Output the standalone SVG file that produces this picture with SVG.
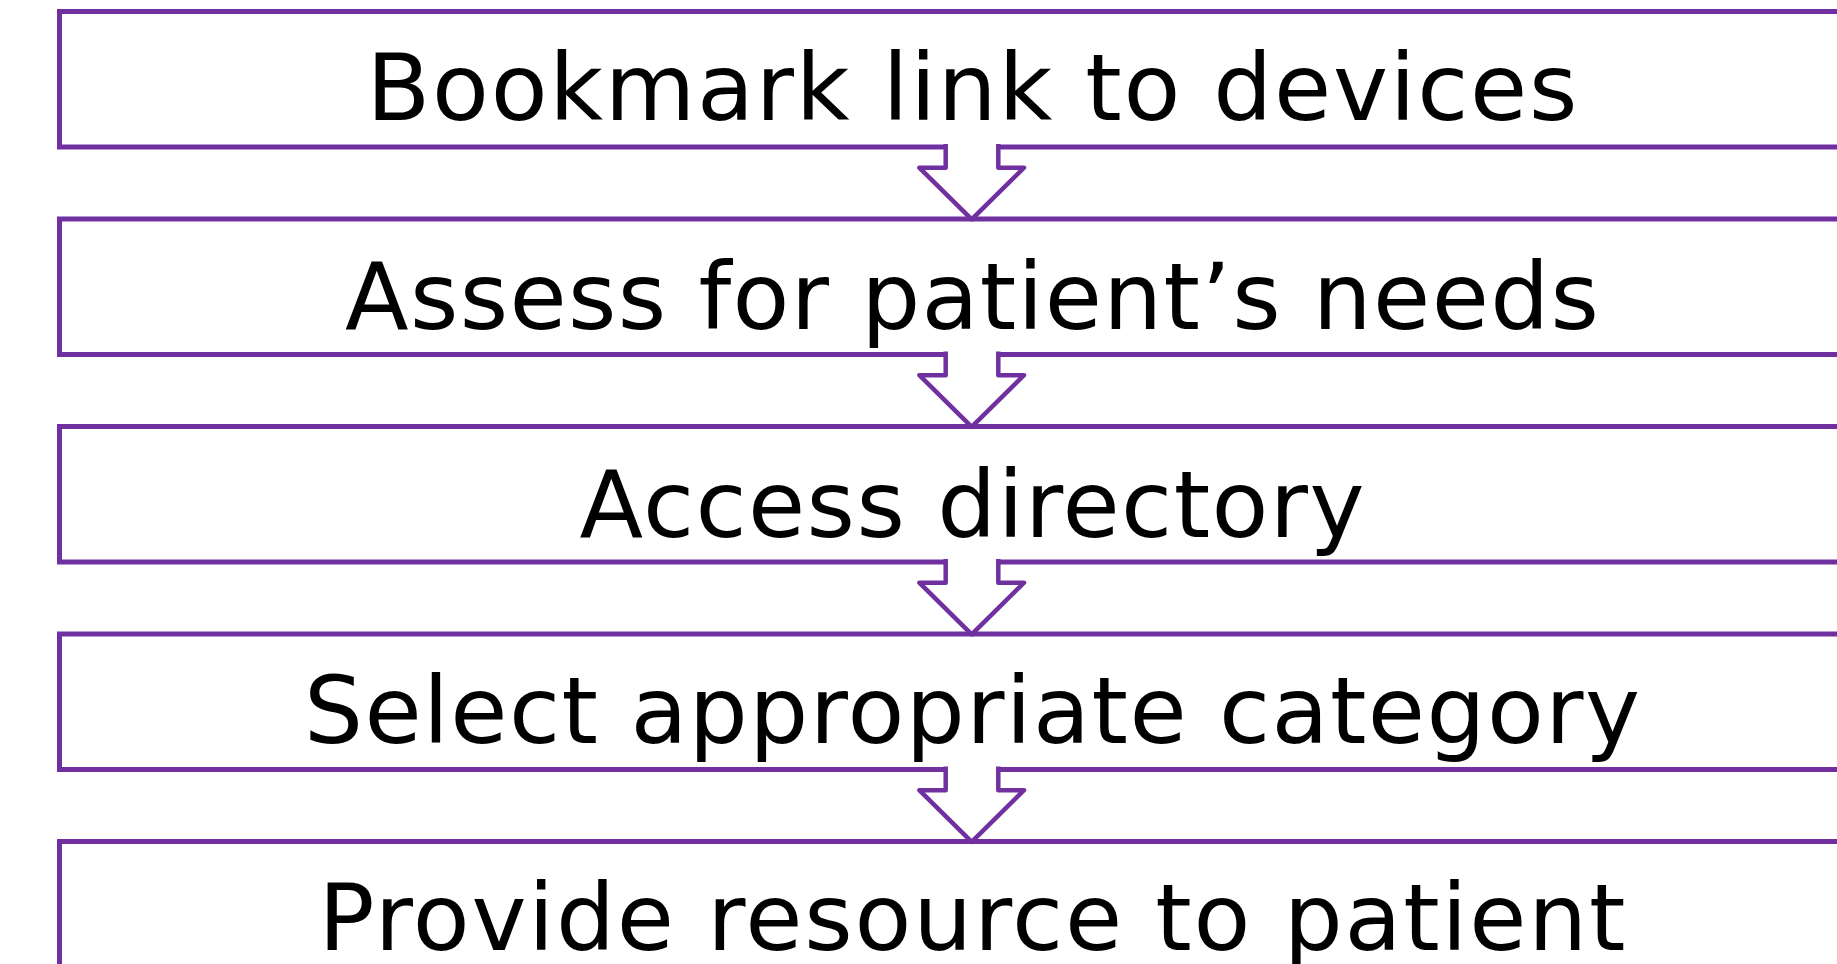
<svg xmlns="http://www.w3.org/2000/svg" width="1837" height="964" viewBox="0 0 1837 964">
  <style>
    .box { fill: #ffffff; stroke: #7030A0; stroke-width: 5; }
    .arrow { fill: #ffffff; stroke: #7030A0; stroke-width: 4.5; stroke-linejoin: round; }
    .label { font-family: "DejaVu Sans", Verdana, sans-serif; font-size: 93px; fill: #000000; text-anchor: middle; }
  </style>
  <defs>
    <!-- block arrow: shaft opens into the box above, tip touches the box below -->
    <path id="down-arrow" class="arrow" d="M945.7,144 L945.7,167.7 L919.3,167.7 L971.7,219.3 L1024,167.7 L998.3,167.7 L998.3,144"/>
  </defs>

  <rect width="1837" height="964" fill="#ffffff"/>

  <g id="step1">
    <rect class="box" x="59.5" y="11.5" width="1830" height="135.5"/>
    <text class="label" x="972" y="120" textLength="1211" lengthAdjust="spacing">Bookmark link to devices</text>
  </g>
  <g id="step2">
    <rect class="box" x="59.5" y="219" width="1830" height="135.5"/>
    <text class="label" x="972" y="329.3" textLength="1254" lengthAdjust="spacing">Assess for patient’s needs</text>
  </g>
  <g id="step3">
    <rect class="box" x="59.5" y="426.5" width="1830" height="135.5"/>
    <text class="label" x="972" y="536.5" textLength="785" lengthAdjust="spacing">Access directory</text>
  </g>
  <g id="step4">
    <rect class="box" x="59.5" y="634" width="1830" height="135.5"/>
    <text class="label" x="972" y="743.3" textLength="1336" lengthAdjust="spacing">Select appropriate category</text>
  </g>
  <g id="step5">
    <rect class="box" x="59.5" y="841.5" width="1830" height="135.5"/>
    <text class="label" x="972" y="950" textLength="1307" lengthAdjust="spacing">Provide resource to patient</text>
  </g>

  <g id="connectors">
    <use href="#down-arrow"/>
    <use href="#down-arrow" transform="translate(0,207.5)"/>
    <use href="#down-arrow" transform="translate(0,415)"/>
    <use href="#down-arrow" transform="translate(0,622.5)"/>
  </g>
</svg>
